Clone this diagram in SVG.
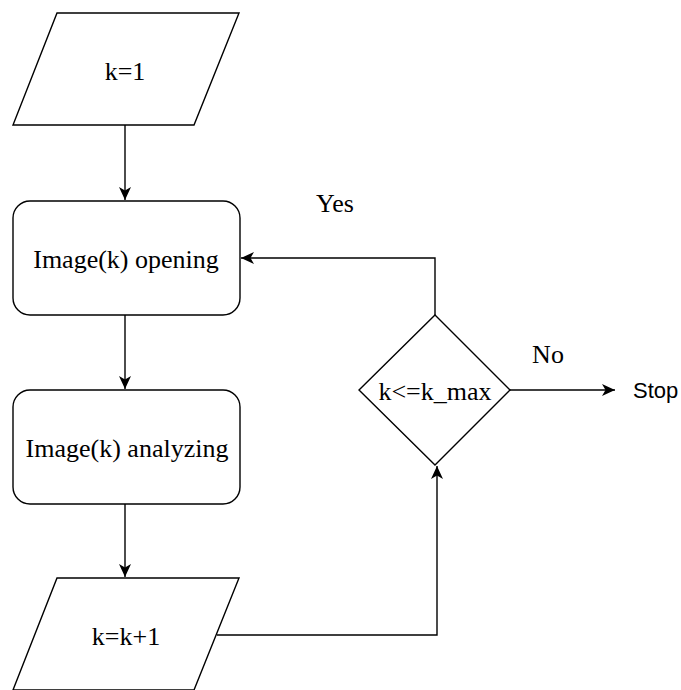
<svg xmlns="http://www.w3.org/2000/svg" width="681" height="690" viewBox="0 0 681 690">
<defs>
<style>
.shape{fill:#fff;stroke:#000;stroke-width:1.4}
.edge{fill:none;stroke:#000;stroke-width:1.4}
.t{font-family:"Liberation Serif","Times New Roman",serif;font-size:26px;fill:#000;text-anchor:middle}
.s{font-family:"Liberation Sans",Arial,sans-serif;font-size:22px;fill:#000}
</style>
<marker id="arr" markerUnits="userSpaceOnUse" markerWidth="14" markerHeight="12" viewBox="0 0 14 12" refX="13" refY="6" orient="auto">
<path d="M0,0 L13,6 L0,12 L3.5,6 Z" fill="#000"/>
</marker>
</defs>
<rect width="681" height="690" fill="#fff"/>
<g id="connectors">
<path class="edge" d="M125,125 L125,200" marker-end="url(#arr)"/>
<path class="edge" d="M125,315 L125,389" marker-end="url(#arr)"/>
<path class="edge" d="M125,504 L125,577" marker-end="url(#arr)"/>
<path class="edge" d="M217,635 L437,635 L437,466" marker-end="url(#arr)"/>
<path class="edge" d="M435,315 L435,258 L241,258" marker-end="url(#arr)"/>
<path class="edge" d="M510,390 L615,390" marker-end="url(#arr)"/>
</g>
<g id="start">
<polygon class="shape" points="57,13 239,13 194,125 13,125"/>
<text class="t" x="125" y="80">k=1</text>
</g>
<g id="open">
<rect class="shape" x="13" y="201" width="227" height="114" rx="17" ry="17"/>
<text class="t" x="126" y="268">Image(k) opening</text>
</g>
<g id="analyze">
<rect class="shape" x="13" y="390" width="227" height="114" rx="17" ry="17"/>
<text class="t" x="127" y="457">Image(k) analyzing</text>
</g>
<g id="increment">
<polygon class="shape" points="57,578 239,578 194,690 13,690"/>
<text class="t" x="126" y="645">k=k+1</text>
</g>
<g id="decision">
<polygon class="shape" points="435,315 510,390 435,465 359,390"/>
<text class="t" x="435" y="400">k&lt;=k_max</text>
</g>
<g id="labels">
<text class="t" x="335" y="212">Yes</text>
<text class="t" x="548" y="363">No</text>
<text class="s" x="633" y="398">Stop</text>
</g>
</svg>
